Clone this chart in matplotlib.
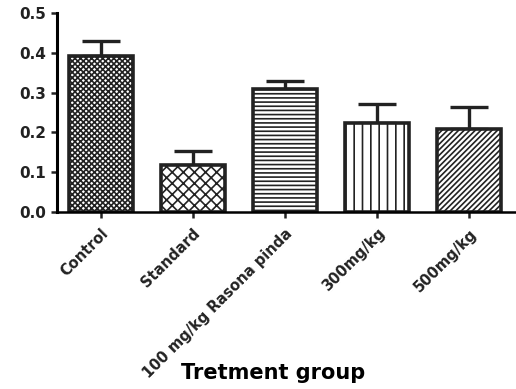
import matplotlib
matplotlib.use("Agg")
import matplotlib.pyplot as plt

groups = ["Control", "Standard", "100 mg/kg Rasona pinda", "300mg/kg", "500mg/kg"]
means = [0.392, 0.118, 0.309, 0.224, 0.208]
errors = [0.038, 0.036, 0.020, 0.047, 0.056]
hatches = ["xxxxxx", "xxx", "----", "||", "//////"]

plt.rcParams["font.family"] = ["DejaVu Sans"]
plt.rcParams["hatch.linewidth"] = 1.2

fig = plt.figure(figsize=(5.16, 3.89), dpi=100)
ax = fig.add_axes([0.110, 0.455, 0.89, 0.512])

x = list(range(len(groups)))
ax.bar(x, means, width=0.70, color="white", edgecolor="#222222",
       linewidth=2.6, hatch=hatches, zorder=2)
ax.errorbar(x, means, yerr=[[0] * len(errors), errors], fmt="none",
            ecolor="#222222", elinewidth=2.4, capsize=14, capthick=2.4, zorder=1)

ax.set_xlim(-0.478, 4.51)
ax.set_ylim(0, 0.5)
yt = [0.0, 0.1, 0.2, 0.3, 0.4, 0.5]
ax.set_yticks(yt)
ax.set_yticklabels([f"{v:.1f}" for v in yt], fontweight="bold", fontsize=11)
ax.set_xticks(x)
ax.set_xticklabels(groups, rotation=45, ha="right", rotation_mode="anchor",
                   fontweight="bold", fontsize=10.5)
ax.spines["top"].set_visible(False)
ax.spines["right"].set_visible(False)
ax.spines["left"].set_linewidth(2.2)
ax.spines["bottom"].set_linewidth(1.8)
ax.tick_params(axis="both", width=1.8, length=4, colors="#222222")
ax.tick_params(axis="x", pad=6)

fig.text(0.53, 0.04, "Tretment group", ha="center", va="center",
         fontweight="bold", fontsize=15)

fig.savefig("out.png", dpi=100, facecolor="white")
